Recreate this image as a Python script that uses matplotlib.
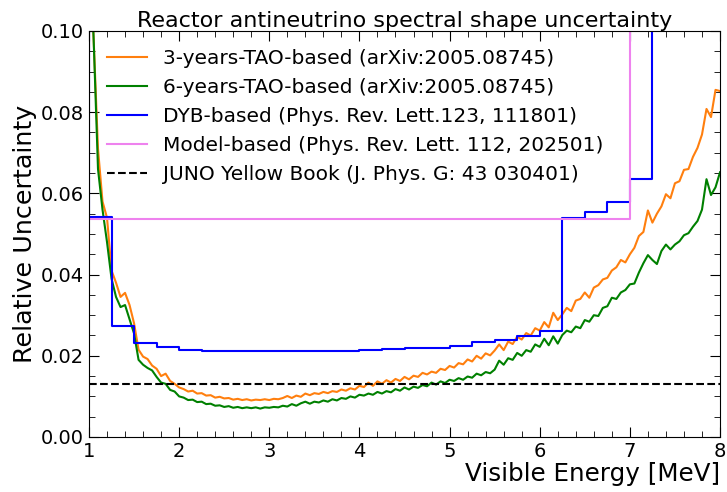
import numpy as np
import matplotlib
matplotlib.use('Agg')
import matplotlib.pyplot as plt
from matplotlib.ticker import MultipleLocator

# energy grid of the TAO-based curves (MeV)
energia = np.arange(1.0, 8.0001, 0.05)

# one row = 0.5 MeV
tao3 = [0.125, 0.099, 0.071, 0.058, 0.054, 0.041, 0.038, 0.0345, 0.0355, 0.0325,
        0.028, 0.0215, 0.0198, 0.0192, 0.0176, 0.0168, 0.0150, 0.0156, 0.0138, 0.0131,
        0.0122, 0.0118, 0.0112, 0.0114, 0.0107, 0.0108, 0.0102, 0.0103, 0.0097, 0.0099,
        0.0095, 0.0096, 0.0092, 0.0094, 0.0091, 0.0093, 0.0090, 0.0092, 0.0091, 0.0093,
        0.0091, 0.0094, 0.0093, 0.0096, 0.0101, 0.0096, 0.0102, 0.0099, 0.0107, 0.0103,
        0.0108, 0.0106, 0.0111, 0.0108, 0.0113, 0.0111, 0.0117, 0.0114, 0.0120, 0.0117,
        0.0126, 0.0123, 0.0134, 0.0126, 0.0137, 0.0131, 0.0140, 0.0134, 0.0143, 0.0138,
        0.0148, 0.0142, 0.0151, 0.0148, 0.0158, 0.0154, 0.0161, 0.0158, 0.0168, 0.0165,
        0.0175, 0.0171, 0.0182, 0.0179, 0.0191, 0.0186, 0.0200, 0.0193, 0.0206, 0.0201,
        0.0213, 0.0228, 0.0214, 0.0235, 0.0229, 0.0247, 0.0240, 0.0256, 0.0250, 0.0268,
        0.0262, 0.0283, 0.0270, 0.0306, 0.0288, 0.0302, 0.0318, 0.0310, 0.0336, 0.0340,
        0.0356, 0.0343, 0.0368, 0.0374, 0.0388, 0.0392, 0.0410, 0.0418, 0.0436, 0.0430,
        0.0450, 0.0466, 0.0495, 0.0505, 0.0558, 0.0528, 0.0550, 0.0568, 0.0598, 0.0588,
        0.0625, 0.0630, 0.0658, 0.0660, 0.0690, 0.0712, 0.0745, 0.0808, 0.0788, 0.0855,
        0.0852]

tao6 = [0.125, 0.099, 0.066, 0.056, 0.048, 0.039, 0.0345, 0.032, 0.0325, 0.029,
        0.0255, 0.0190, 0.0178, 0.0170, 0.0164, 0.0148, 0.0134, 0.0131, 0.0116, 0.0112,
        0.0100, 0.0097, 0.0091, 0.0092, 0.0086, 0.0087, 0.0081, 0.0082, 0.0077, 0.0078,
        0.0074, 0.0076, 0.0072, 0.0074, 0.0071, 0.0073, 0.0071, 0.0073, 0.0070, 0.0073,
        0.0072, 0.0074, 0.0073, 0.0077, 0.0075, 0.0081, 0.0077, 0.0083, 0.0087, 0.0082,
        0.0087, 0.0085, 0.0090, 0.0087, 0.0093, 0.0090, 0.0096, 0.0094, 0.0100, 0.0097,
        0.0104, 0.0102, 0.0107, 0.0104, 0.0111, 0.0107, 0.0113, 0.0110, 0.0118, 0.0114,
        0.0122, 0.0117, 0.0124, 0.0121, 0.0128, 0.0125, 0.0134, 0.0129, 0.0137, 0.0133,
        0.0141, 0.0138, 0.0145, 0.0141, 0.0149, 0.0146, 0.0156, 0.0152, 0.0160, 0.0157,
        0.0166, 0.0188, 0.0178, 0.0194, 0.0190, 0.0207, 0.0200, 0.0214, 0.0210, 0.0228,
        0.0222, 0.0242, 0.0226, 0.0248, 0.0230, 0.0251, 0.0262, 0.0258, 0.0272, 0.0268,
        0.0288, 0.0284, 0.0300, 0.0298, 0.0318, 0.0322, 0.0343, 0.0340, 0.0356, 0.0362,
        0.0376, 0.0378, 0.0405, 0.0428, 0.0448, 0.0436, 0.0426, 0.0458, 0.0474, 0.0462,
        0.0474, 0.0482, 0.0497, 0.0502, 0.0518, 0.0532, 0.0560, 0.0635, 0.0596, 0.0615,
        0.0652]

# DYB-based uncertainty, binned
dyb_bordi = [0.75, 1.0, 1.25, 1.5, 1.75, 2.0, 2.25, 2.5, 2.75, 3.0, 3.25, 3.5, 3.75,
             4.0, 4.25, 4.5, 4.75, 5.0, 5.25, 5.5, 5.75, 6.0, 6.25, 6.5, 6.75, 7.0,
             7.25, 8.0]
dyb_valori = [0.2, 0.0542, 0.0273, 0.0232, 0.0221, 0.0214, 0.0212, 0.0211, 0.0211,
              0.0211, 0.0212, 0.0212, 0.0213, 0.0215, 0.0216, 0.0218, 0.0220, 0.0224,
              0.0234, 0.0240, 0.0248, 0.0262, 0.0539, 0.0553, 0.0580, 0.0635, 0.2]

# model-based uncertainty
modello_bordi = [1.0, 7.0, 8.0]
modello_valori = [0.0536, 0.2]

yellow_book = 0.013

fig, ax = plt.subplots(figsize=(7.27, 4.92), dpi=100)
fig.subplots_adjust(left=0.1224, right=0.9904, bottom=0.1118, top=0.937)

ax.plot(energia, tao3, c='C1', lw=1.5, label='3-years-TAO-based (arXiv:2005.08745)')
ax.plot(energia, tao6, c='green', lw=1.5, label='6-years-TAO-based (arXiv:2005.08745)')
ax.step(dyb_bordi, dyb_valori + [dyb_valori[-1]], where='post', c='blue', lw=1.5,
        label='DYB-based (Phys. Rev. Lett.123, 111801)')
ax.step(modello_bordi, modello_valori + [modello_valori[-1]], where='post', c='violet', lw=1.5,
        label='Model-based (Phys. Rev. Lett. 112, 202501)')
ax.axhline(yellow_book, c='k', ls='--', lw=1.5,
           label='JUNO Yellow Book (J. Phys. G: 43 030401)')

ax.set_xlim(1, 8)
ax.set_ylim(0, 0.1)
ax.xaxis.set_major_locator(MultipleLocator(1))
ax.xaxis.set_minor_locator(MultipleLocator(0.2))
ax.yaxis.set_major_locator(MultipleLocator(0.02))
ax.yaxis.set_minor_locator(MultipleLocator(0.005))
ax.tick_params(which='both', direction='in', top=True, right=True, labelsize=14)
ax.tick_params(which='major', length=7)
ax.tick_params(which='minor', length=4)

ax.set_xlabel('Visible Energy [MeV]', fontsize=17.7, loc='right', labelpad=1)
ax.set_ylabel('Relative Uncertainty', fontsize=18.3, labelpad=3)
ax.set_title('Reactor antineutrino spectral shape uncertainty', fontsize=16, pad=3)
ax.legend(loc='upper left', frameon=False, fontsize=14.5)

fig.savefig('out.png', dpi=100)
